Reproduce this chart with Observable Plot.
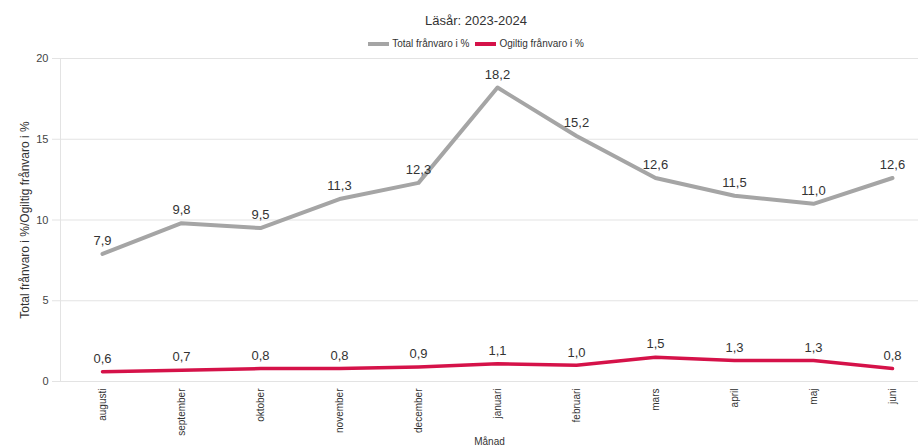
<!DOCTYPE html>
<html>
<head>
<meta charset="utf-8">
<script src="https://cdn.jsdelivr.net/npm/d3@7"></script>
<script src="https://cdn.jsdelivr.net/npm/@observablehq/plot@0.6"></script>
<style>
  html, body { margin: 0; padding: 0; background: #fff; overflow: hidden; }
  body { width: 918px; height: 446px; font-family: "Liberation Sans", Arial, sans-serif; color: #333; }
  #title { height: 37px; line-height: 41px; text-align: center; font-size: 13px; color: #333; padding-left: 34px; box-sizing: border-box; }
  #legend { height: 14px; line-height: 14px; display: flex; justify-content: center; align-items: center; font-size: 10px; color: #333; gap: 6px; padding-left: 34px; box-sizing: border-box; }
  .sw { display: inline-block; width: 21px; height: 4px; margin-right: 3px; vertical-align: middle; }
  .item { display: inline-flex; align-items: center; }
  #chart svg { overflow: visible; display: block; }
</style>
</head>
<body>
<div id="title">Läsår: 2023-2024</div>
<div id="legend"></div>
<div id="chart"></div>
<script>
const months = ["augusti","september","oktober","november","december","januari","februari","mars","april","maj","juni"];
const totalValues = [7.9, 9.8, 9.5, 11.3, 12.3, 18.2, 15.2, 12.6, 11.5, 11.0, 12.6];
const ogiltigValues = [0.6, 0.7, 0.8, 0.8, 0.9, 1.1, 1.0, 1.5, 1.3, 1.3, 0.8];
const seriesNames = ["Total frånvaro i %", "Ogiltig frånvaro i %"];
const seriesColors = ["#a5a5a5", "#d51249"];
const yTicks = [0, 5, 10, 15, 20];

const data = [];
months.forEach((m, i) => {
  data.push({month: m, value: totalValues[i], series: seriesNames[0]});
  data.push({month: m, value: ogiltigValues[i], series: seriesNames[1]});
});
const fmt = v => v.toFixed(1).replace(".", ",");

const legend = document.getElementById("legend");
seriesNames.forEach((n, i) => {
  const s = document.createElement("span");
  s.className = "item";
  s.innerHTML = `<span class="sw" style="background:${seriesColors[i]}"></span>${n}`;
  legend.appendChild(s);
});

const chart = Plot.plot({
  width: 918,
  height: 395,
  marginLeft: 60,
  marginRight: 0,
  marginTop: 7,
  marginBottom: 65,
  style: {fontFamily: "'Liberation Sans', Arial, sans-serif", color: "#333", background: "#fff"},
  x: {type: "point", domain: months, range: [98, 895], padding: 0},
  y: {domain: [0, 20], ticks: yTicks},
  color: {domain: seriesNames, range: seriesColors},
  marks: [
    Plot.gridY(yTicks, {stroke: "#e3e3e3", strokeOpacity: 1}),
    Plot.frame({anchor: "left", stroke: "#e3e3e3"}),
    Plot.ruleY([0], {stroke: "#e3e3e3"}),
    Plot.axisY(yTicks, {tickSize: 8, stroke: "#e3e3e3", tickPadding: 4, fontSize: 11, fill: "#444", label: null}),
    Plot.axisY({ticks: [], label: "Total frånvaro i %/Ogiltig frånvaro i %", labelAnchor: "center", labelArrow: "none", labelOffset: 40, fontSize: 12, fill: "#333"}),
    Plot.axisX({tickSize: 0, tickRotate: -90, tickPadding: 7, fontSize: 10, fill: "#333",
      label: "Månad", labelAnchor: "center", labelArrow: "none", labelOffset: 63}),
    Plot.line(data.filter(d => d.series === seriesNames[0]), {x: "month", y: "value", stroke: seriesColors[0], strokeWidth: 4, strokeLinejoin: "round"}),
    Plot.line(data.filter(d => d.series === seriesNames[1]), {x: "month", y: "value", stroke: seriesColors[1], strokeWidth: 3.5, strokeLinejoin: "round"}),
    Plot.text(data, {x: "month", y: "value", text: d => fmt(d.value), dy: -13, fontSize: 13, fill: "#333"})
  ]
});
document.getElementById("chart").appendChild(chart);
</script>
</body>
</html>
